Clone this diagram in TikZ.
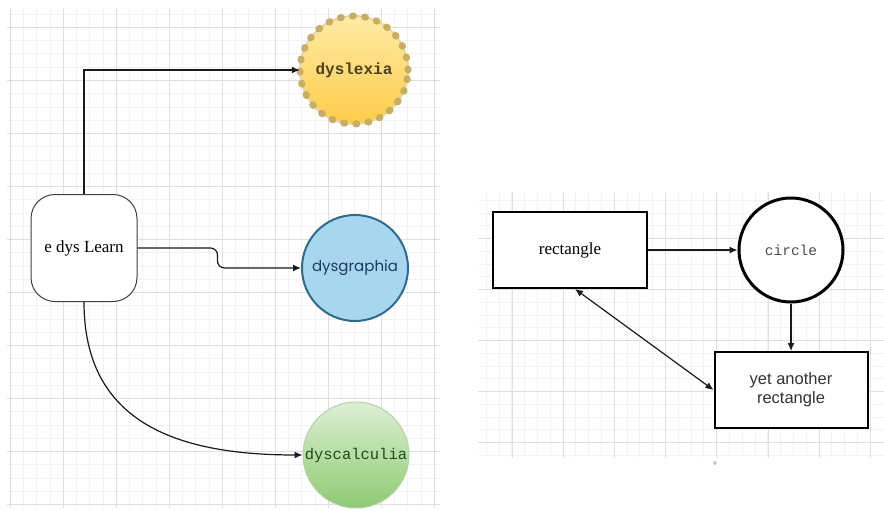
\documentclass[tikz,border=0pt]{standalone}
\usepackage{fontspec}
\setmainfont{Liberation Serif}
\newfontfamily\monofnt{Liberation Mono}
\newfontfamily\sansfnt{Liberation Sans}
\newfontfamily\roundfnt{Poppins}
\usetikzlibrary{arrows.meta}
\definecolor{gridmajor}{HTML}{DEDEDE}
\definecolor{gridminor}{HTML}{F2F2F2}
\definecolor{linecol}{HTML}{1A1A1A}
\definecolor{sunfillA}{HTML}{FFEBA6}
\definecolor{sunfillB}{HTML}{FFCC48}
\definecolor{sunedge}{HTML}{C8AE62}
\definecolor{sunink}{HTML}{4E4120}
\definecolor{bluefill}{HTML}{A8D6EF}
\definecolor{blueedge}{HTML}{2D6C8C}
\definecolor{blueink}{HTML}{1C3A66}
\definecolor{greenfillA}{HTML}{DDEFD3}
\definecolor{greenfillB}{HTML}{8ECB72}
\definecolor{greenedge}{HTML}{B7D1AA}
\definecolor{greenink}{HTML}{1F4A1F}
\tikzset{
  conn/.style={draw=linecol, line width=1.2pt, -{Latex[length=8pt,width=7pt]}},
  twoway/.style={draw=linecol, line width=1.2pt, {Latex[length=8pt,width=7pt]}-{Latex[length=8pt,width=7pt]}},
  hubbox/.style={draw=black!75, line width=1pt, fill=white, rounded corners=24pt,
    minimum width=106pt, minimum height=107pt, font=\fontsize{17}{19}\selectfont},
  bubble/.style={circle, minimum size=#1, inner sep=0pt},
  plainbox/.style={draw=black, line width=2pt, fill=white, minimum width=154pt,
    minimum height=76pt, align=center},
}
\begin{document}
\begin{tikzpicture}[x=1pt,y=-1pt]
\useasboundingbox (0,0) rectangle (884,511);
\fill[white] (0,0) rectangle (884,511);

% grid of the left sheet
\foreach \k in {0,...,32} {
  \draw[gridminor, line width=0.5pt] ({10+\k*13.25},8) -- ({10+\k*13.25},508);
}
\foreach \k in {0,...,37} {
  \draw[gridminor, line width=0.5pt] (7,{14+\k*13.25}) -- (440,{14+\k*13.25});
}
\foreach \k in {0,...,8} {
  \draw[gridmajor, line width=0.8pt] ({10+\k*53},8) -- ({10+\k*53},508);
}
\foreach \k in {0,...,9} {
  \draw[gridmajor, line width=0.8pt] (7,{27+\k*53}) -- (440,{27+\k*53});
}

% grid of the right sheet
\foreach \k in {0,...,30} {
  \draw[gridminor, line width=0.5pt] ({486+\k*12.8},192) -- ({486+\k*12.8},458);
}
\foreach \k in {0,...,20} {
  \draw[gridminor, line width=0.5pt] (478,{200+\k*12.75}) -- (884,{200+\k*12.75});
}
\foreach \k in {0,...,7} {
  \draw[gridmajor, line width=0.8pt] ({512+\k*51.2},192) -- ({512+\k*51.2},458);
}
\foreach \k in {0,...,4} {
  \draw[gridmajor, line width=0.8pt] (478,{238+\k*51}) -- (884,{238+\k*51});
}
\fill[black!20] (715,463) circle (2pt);

% left diagram
\node[hubbox] (learn) at (84,248) {e dys Learn};

\path[top color=sunfillA, bottom color=sunfillB, draw=sunedge!50, line width=2pt]
  (354,70) circle (54pt);
\draw[sunedge, line width=7pt, line cap=round, dash pattern=on 1pt off 11.2pt]
  (354,70) circle (54pt);
\node[bubble=108pt, text=sunink, font=\monofnt\bfseries\fontsize{16}{18}\selectfont]
  (dyslexia) at (354,70) {dyslexia};

\node[bubble=106pt, draw=blueedge, line width=2pt, fill=bluefill, text=blueink,
  font=\roundfnt\fontsize{15}{17}\selectfont] (dysgraphia) at (355,268) {dysgraphia};

\node[bubble=106pt, draw=greenedge, line width=1pt, top color=greenfillA,
  bottom color=greenfillB, text=greenink,
  font=\monofnt\fontsize{15.5}{18}\selectfont] (dyscalculia) at (356,455) {dyscalculia};

\draw[conn] (learn.north) |- (dyslexia.west);
\draw[conn, rounded corners=7pt] (learn.east) -- ++(80,0) |- (dysgraphia.west);
\draw[conn] (learn.south) .. controls +(0,118) and +(-130,0) .. (dyscalculia.west);

% right diagram
\node[plainbox, font=\fontsize{17}{19}\selectfont] (rect) at (570,250) {rectangle};
\node[bubble=104pt, draw=black, line width=3pt, fill=white,
  font=\monofnt\fontsize{14.5}{17}\selectfont, text=black!70] (circ) at (791,250) {circle};
\node[plainbox, minimum width=153pt, font=\sansfnt\fontsize{16.5}{19}\selectfont,
  text=black!80] (other) at (791,390) {yet another\\rectangle};

\draw[conn] (rect.east) -- (circ.west);
\draw[conn] (circ.south) -- (other.north);
\draw[twoway] ([xshift=5pt]rect.south) -- (other.west);
\end{tikzpicture}
\end{document}
